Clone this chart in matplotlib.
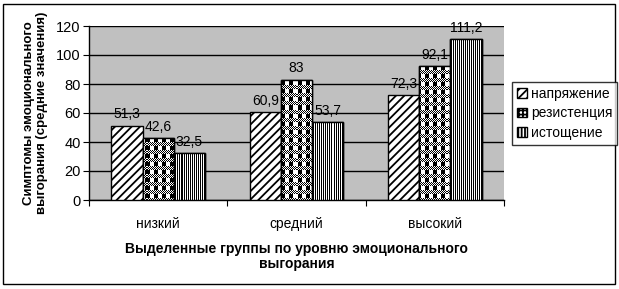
import numpy as np
import matplotlib
matplotlib.use('Agg')
import matplotlib.pyplot as plt
from matplotlib.patches import Rectangle

plt.rcParams['font.family'] = ['Liberation Sans', 'DejaVu Sans']
plt.rcParams['hatch.linewidth'] = 1.3

# data
groups = ['низкий', 'средний', 'высокий']
series = ['напряжение', 'резистенция', 'истощение']
napr = [51.3, 60.9, 72.3]
rezist = [42.6, 83, 92.1]
istosh = [32.5, 53.7, 111.2]
values = [napr, rezist, istosh]
hatches = ['////', '++++', '|||||']

fig = plt.figure(figsize=(6.19, 2.89), dpi=100)
ax = fig.add_axes([89/619, 1 - 200/289, 415/619, 174/289])
ax.set_facecolor('#c0c0c0')

x = np.arange(len(groups))
w = 0.225
ax.set_xlim(-0.5, 2.5)
ax.set_ylim(0, 120)

# pixel patterns: checker for the middle series, fine stripes for the last
tile = np.ones((8, 8))
tile[0:4, 0:4] = 0
tile[4:8, :] = (np.indices((4, 8)).sum(axis=0) % 2)
checker = np.tile(tile, (174 // 8 + 1, 415 // 8 + 1))[:174, :415]
stripes = np.tile(np.array([[0, 1]]), (174, 208))[:, :415].astype(float)
patterns = {1: checker, 2: stripes}

for i, (name, vals) in enumerate(zip(series, values)):
    bars = ax.bar(x + (i - 1) * w, vals, w, color='white', edgecolor='black',
                  linewidth=1, hatch=hatches[i], label=name, zorder=3)
    if i in patterns:
        for b in bars:
            im = ax.imshow(patterns[i], cmap='gray', extent=(-0.5, 2.5, 0, 120),
                           aspect='auto', interpolation='nearest', zorder=3.5)
            im.set_clip_path(b)
            ax.add_patch(Rectangle(b.get_xy(), b.get_width(), b.get_height(),
                                   fill=False, edgecolor='black', lw=1, zorder=4))
    for b, v in zip(bars, vals):
        ax.annotate(f'{v:g}'.replace('.', ','), (b.get_x() + b.get_width() / 2, v),
                    xytext=(0, 3), textcoords='offset points', ha='center',
                    va='bottom', fontsize=10)

ax.set_xlim(-0.5, 2.5)
ax.set_ylim(0, 120)
ax.set_yticks(range(0, 121, 20))
ax.yaxis.grid(True, color='black', linewidth=1)
ax.set_axisbelow(True)
ax.set_xticks([-0.5, 0.5, 1.5, 2.5])
ax.set_xticklabels([])
ax.set_xticks(x, minor=True)
ax.set_xticklabels(groups, minor=True, fontsize=10)
ax.tick_params(axis='x', which='minor', length=0, pad=12)
ax.tick_params(axis='x', which='major', length=4, direction='out')
ax.tick_params(axis='y', length=4, direction='out', labelsize=10.5, pad=2)
for s in ['top', 'right']:
    ax.spines[s].set_visible(False)
ax.spines['left'].set_linewidth(1)
ax.spines['bottom'].set_linewidth(1)

ax.set_xlabel('Выделенные группы по уровню эмоционального\nвыгорания',
              fontsize=10, fontweight='bold', labelpad=8, linespacing=1.1)
ax.set_ylabel('Симптомы эмоционального\nвыгорания (средние значения)',
              fontsize=9.5, fontweight='bold', labelpad=6, linespacing=1.1)

leg = fig.legend(loc='upper left', bbox_to_anchor=(512/619, 1 - 82/289),
                 fontsize=10, frameon=True, fancybox=False, edgecolor='black',
                 handlelength=0.7, handleheight=0.7, handletextpad=0.3,
                 borderpad=0.35, labelspacing=0.4, borderaxespad=0)
leg.get_frame().set_linewidth(1)

fig.patches.append(Rectangle((3/619, 5/289), 612/619, 280/289, transform=fig.transFigure,
                             fill=False, edgecolor='black', lw=1))

fig.savefig('out.png', dpi=100)
